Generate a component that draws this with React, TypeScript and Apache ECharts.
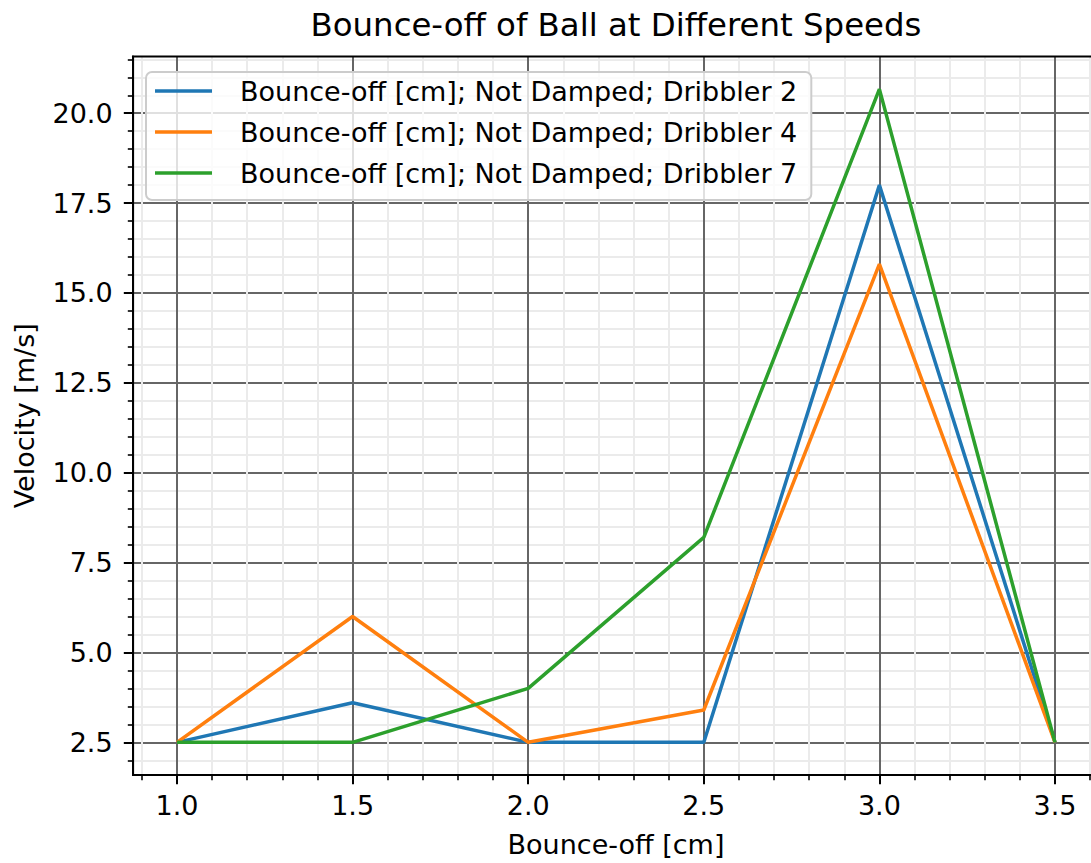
import React, { useEffect, useRef } from "react";
import * as echarts from "echarts";

const xValues = [1.0, 1.5, 2.0, 2.5, 3.0, 3.5];
const dribbler2 = [2.5, 3.6, 2.5, 2.5, 18.0, 2.5];
const dribbler4 = [2.5, 6.0, 2.5, 3.4, 15.8, 2.5];
const dribbler7 = [2.5, 2.5, 4.0, 8.2, 20.67, 2.5];

const seriesNames = [
  "Bounce-off [cm]; Not Damped; Dribbler 2",
  "Bounce-off [cm]; Not Damped; Dribbler 4",
  "Bounce-off [cm]; Not Damped; Dribbler 7",
];
const seriesColors = ["#1f77b4", "#ff7f0e", "#2ca02c"];

const xMajorTicks = [1.0, 1.5, 2.0, 2.5, 3.0, 3.5];
const xMinorTicks = [0.9, 1.1, 1.2, 1.3, 1.4, 1.6, 1.7, 1.8, 1.9, 2.1, 2.2, 2.3, 2.4, 2.6, 2.7, 2.8, 2.9, 3.1, 3.2, 3.3, 3.4, 3.6];
const yMajorTicks = [2.5, 5.0, 7.5, 10.0, 12.5, 15.0, 17.5, 20.0];
const yMinorTicks = [2, 3, 3.5, 4, 4.5, 5.5, 6, 6.5, 7, 8, 8.5, 9, 9.5, 10.5, 11, 11.5, 12, 13, 13.5, 14, 14.5, 15.5, 16, 16.5, 17, 18, 18.5, 19, 19.5, 20.5, 21, 21.5];

const X_MIN = 0.875;
const X_MAX = 3.625;
const Y_MIN = 1.5915;
const Y_MAX = 21.5785;

const FONT = "DejaVu Sans";
const FS = 27;

export default function App() {
  const ref = useRef<HTMLDivElement>(null);

  useEffect(() => {
    if (!ref.current) return;
    const chart = echarts.init(ref.current, null, { renderer: "svg" });

    const gridLeft = 133.1;
    const gridTop = 56.5;
    const gridWidth = 965.8;
    const gridHeight = 719.5;

    const minorAxisCommon = {
      type: "value" as const,
      axisLine: { show: false },
      axisLabel: { show: false },
      splitLine: { show: true, lineStyle: { color: "#ebebeb", width: 2 } },
    };

    const option: any = {
      animation: false,
      backgroundColor: "#ffffff",
      grid: {
        left: gridLeft,
        top: gridTop,
        width: gridWidth,
        height: gridHeight,
        show: true,
        borderColor: "#000000",
        borderWidth: 2,
        backgroundColor: "transparent",
        z: 3,
      },
      xAxis: [
        {
          ...minorAxisCommon,
          position: "bottom",
          min: X_MIN,
          max: X_MAX,
          axisTick: {
            show: true,
            customValues: xMinorTicks,
            length: 5.3,
            inside: false,
            lineStyle: { color: "#000", width: 1.6 },
          },
        },
        {
          type: "value",
          position: "bottom",
          min: X_MIN,
          max: X_MAX,
          axisLine: { show: true, lineStyle: { color: "#000", width: 2 } },
          axisTick: {
            show: true,
            customValues: xMajorTicks,
            length: 9.3,
            inside: false,
            lineStyle: { color: "#000", width: 2 },
          },
          axisLabel: {
            show: true,
            customValues: xMajorTicks,
            formatter: (v: number) => v.toFixed(1),
            fontFamily: FONT,
            fontSize: FS,
            color: "#000",
            margin: 17,
          },
          splitLine: { show: true, lineStyle: { color: "#666666", width: 2 } },
          name: "Bounce-off [cm]",
          nameLocation: "middle",
          nameGap: 56,
          nameTextStyle: { fontFamily: FONT, fontSize: FS, color: "#000" },
        },
      ],
      yAxis: [
        {
          ...minorAxisCommon,
          position: "left",
          min: Y_MIN,
          max: Y_MAX,
          axisTick: {
            show: true,
            customValues: yMinorTicks,
            length: 5.3,
            inside: false,
            lineStyle: { color: "#000", width: 1.6 },
          },
        },
        {
          type: "value",
          position: "left",
          min: Y_MIN,
          max: Y_MAX,
          axisLine: { show: true, lineStyle: { color: "#000", width: 2 } },
          axisTick: {
            show: true,
            customValues: yMajorTicks,
            length: 9.3,
            inside: false,
            lineStyle: { color: "#000", width: 2 },
          },
          axisLabel: {
            show: true,
            customValues: yMajorTicks,
            formatter: (v: number) => v.toFixed(1),
            fontFamily: FONT,
            fontSize: FS,
            color: "#000",
            margin: 20.5,
          },
          splitLine: { show: true, lineStyle: { color: "#666666", width: 2 } },
          name: "Velocity [m/s]",
          nameLocation: "middle",
          nameRotate: 90,
          nameGap: 95,
          nameTextStyle: { fontFamily: FONT, fontSize: FS, color: "#000" },
        },
      ],
      legend: {
        show: true,
        orient: "vertical",
        left: 146,
        top: 72,
        padding: [4, 14, 12, 9],
        itemGap: 11,
        itemWidth: 57,
        itemHeight: 3.5,
        icon: "rect",
        backgroundColor: "rgba(255,255,255,0.8)",
        borderColor: "#cccccc",
        borderWidth: 2,
        borderRadius: 6,
        data: seriesNames,
        formatter: (name: string) => "{a|" + name + "}",
        textStyle: {
          fontFamily: FONT,
          fontSize: FS,
          color: "#000",
          lineHeight: 30,
          rich: {
            a: {
              fontFamily: FONT,
              fontSize: FS,
              color: "#000",
              lineHeight: 30,
              padding: [0, 0, 0, 23],
            },
          },
        },
      },
      graphic: [
        {
          type: "text",
          x: gridLeft + gridWidth / 2,
          y: 25.3,
          style: {
            text: "Bounce-off of Ball at Different Speeds",
            fontFamily: FONT,
            fontSize: 32.4,
            fill: "#000",
            textAlign: "center",
            textVerticalAlign: "middle",
          },
        },
      ],
      series: [dribbler2, dribbler4, dribbler7].map((vals, i) => ({
        name: seriesNames[i],
        type: "line",
        xAxisIndex: 1,
        yAxisIndex: 1,
        data: xValues.map((x, j) => [x, vals[j]]),
        showSymbol: false,
        symbol: "none",
        color: seriesColors[i],
        lineStyle: { color: seriesColors[i], width: 3.5 },
        z: 4,
      })),
    };

    chart.setOption(option);
    return () => chart.dispose();
  }, []);

  return (
    <div
      style={{
        position: "absolute",
        left: 0,
        top: 0,
        width: 1091,
        height: 863,
        overflow: "hidden",
      }}
    >
      <div ref={ref} style={{ width: 1110, height: 863 }} />
    </div>
  );
}
